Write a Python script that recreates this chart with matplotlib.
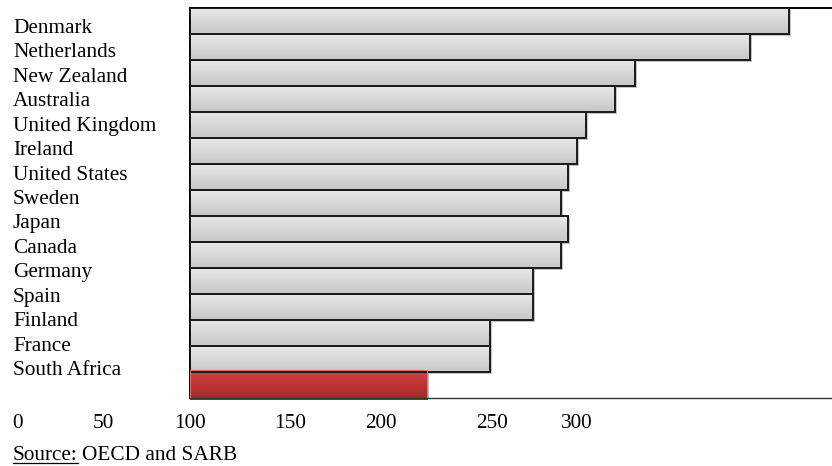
import numpy as np
import matplotlib
matplotlib.use("Agg")
import matplotlib.pyplot as plt
import matplotlib.patheffects as pe
from matplotlib.lines import Line2D

countries = ["Denmark", "Netherlands", "New Zealand", "Australia", "United Kingdom",
             "Ireland", "United States", "Sweden", "Japan", "Canada", "Germany",
             "Spain", "Finland", "France", "South Africa"]
values = [409.6, 389.4, 330, 319.6, 304.7, 300, 295.3, 291.7, 295.3, 291.7,
          277.3, 277.3, 255, 255, 222.5]
tick_labels = ["0", "50", "100", "150", "200", "250", "300"]
tick_pos = [11, 55, 100, 151.7, 198.7, 256, 300]

plt.rcParams['font.family'] = ['Liberation Serif', 'DejaVu Serif']
FS = 15.3
W, H = 832, 466

fig = plt.figure(figsize=(8.32, 4.66), dpi=100)
ax = fig.add_axes([190/W, 68/H, 642/W, 390/H])

n = len(countries)
ys = np.arange(n)[::-1]
xmin, xmax = 100, 100 + 642/1.935

# vertical gradients (top -> bottom)
t = np.linspace(0, 1, 64)[:, None]
grey_top = np.array([0.91, 0.91, 0.91])
grey_bot = np.array([0.78, 0.78, 0.78])
grey_img = (grey_top * (1 - t) + grey_bot * t)[:, None, :].repeat(2, axis=1)
red_top = np.array([0.82, 0.26, 0.26])
red_bot = np.array([0.65, 0.15, 0.15])
red_img = (red_top * (1 - t) + red_bot * t)[:, None, :].repeat(2, axis=1)

for y, v, c in zip(ys, values, countries):
    sa = c == "South Africa"
    h = 1.12 if sa else 1.0
    bar = ax.barh(y, v - xmin, left=xmin, height=h, color="#c0c0c0", edgecolor="none", zorder=1,
                  path_effects=[pe.SimplePatchShadow(offset=(1.5, -1.5),
                                                     shadow_rgbFace="#8a8a8a", alpha=0.5),
                                pe.Normal()])[0]
    img = ax.imshow(red_img if sa else grey_img, extent=[xmin, v, y - h/2, y + h/2],
                    aspect="auto", origin="upper", zorder=2, interpolation="bilinear")
    img.set_clip_path(bar)
    if sa:
        ax.barh(y, v - xmin, left=xmin, height=h, color="none", edgecolor="#e07070", lw=0.8, zorder=3)
    else:
        ax.barh(y, v - xmin, left=xmin, height=h, color="none", edgecolor="#1a1a1a", lw=1.4, zorder=3)

ax.set_xlim(xmin, xmax)
ax.set_ylim(-0.5, n - 0.5)
ax.set_xticks([])
ax.set_yticks([])
ax.spines["right"].set_visible(False)
ax.spines["left"].set_linewidth(1.4)
ax.spines["top"].set_linewidth(1.4)
ax.spines["bottom"].set_linewidth(1.0)
ax.spines["bottom"].set_color("#333333")

# country labels (baselines step a little tighter than the bars)
for i, c in enumerate(countries):
    fig.text(13/W, 1 - (33 + i*24.43)/H, c, ha="left", va="baseline", fontsize=FS)

# the x labels as they sit in the original
for p, lab in zip(tick_pos, tick_labels):
    xf = fig.transFigure.inverted().transform(ax.transData.transform((p, 0)))[0]
    fig.text(xf, 1 - 428/H, lab, ha="center", va="baseline", fontsize=FS)

src1 = fig.text(13/W, 1 - 460/H, "Source:", ha="left", va="baseline", fontsize=FS)
fig.canvas.draw()
bb = src1.get_window_extent()
fig.text((bb.x1 + 4)/W, 1 - 460/H, "OECD and SARB", ha="left", va="baseline", fontsize=FS)
fig.add_artist(Line2D([bb.x0/W, bb.x1/W], [1 - 463/H, 1 - 463/H],
                      color="black", lw=0.9, transform=fig.transFigure))

fig.savefig("out.png", dpi=100)
